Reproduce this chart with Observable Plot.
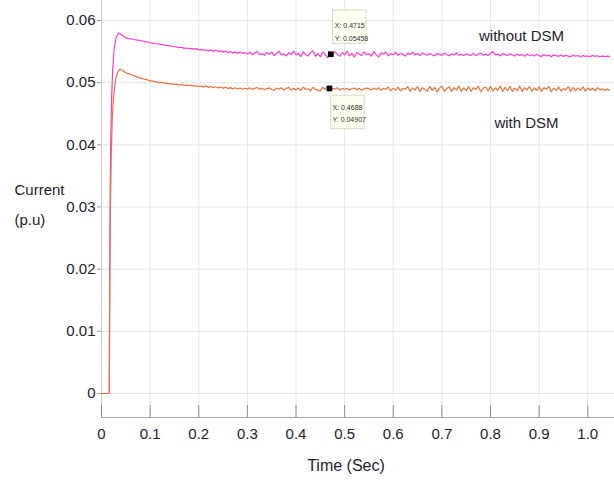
<!DOCTYPE html>
<html>
<head>
<meta charset="utf-8">
<script src="https://cdn.jsdelivr.net/npm/d3@7"></script>
<script src="https://cdn.jsdelivr.net/npm/@observablehq/plot@0.6"></script>
<style>
  html, body { margin: 0; padding: 0; background: #fff; }
</style>
</head>
<body>
<div id="chart"></div>
<script>
// ---- data ----
const xTicks = [0, 0.1, 0.2, 0.3, 0.4, 0.5, 0.6, 0.7, 0.8, 0.9, 1.0];
const yTicks = [0, 0.01, 0.02, 0.03, 0.04, 0.05, 0.06];

// start-up transient
const transientTimeWithout = [0, 0.016, 0.017, 0.018, 0.019, 0.021, 0.023, 0.026, 0.03, 0.035, 0.04, 0.045];
const transientWithout     = [0, 0, 0.02, 0.033, 0.041, 0.048, 0.052, 0.0555, 0.0573, 0.0580, 0.0578, 0.0575];
const transientTimeWith    = [0, 0.016, 0.0168, 0.018, 0.02, 0.022, 0.025, 0.029, 0.033, 0.038, 0.043];
const transientWith        = [0, 0, 0.015, 0.028, 0.038, 0.044, 0.0480, 0.0505, 0.0516, 0.0522, 0.0520];

// settling / steady part
const steadyTime = [
  0.05,0.055,0.06,0.065,0.07,0.075,0.08,0.085,0.09,0.095,
  0.10,0.105,0.11,0.115,0.12,0.125,0.13,0.135,0.14,0.145,
  0.15,0.155,0.16,0.165,0.17,0.175,0.18,0.185,0.19,0.195,
  0.20,0.205,0.21,0.215,0.22,0.225,0.23,0.235,0.24,0.245,
  0.25,0.255,0.26,0.265,0.27,0.275,0.28,0.285,0.29,0.295,
  0.30,0.305,0.31,0.315,0.32,0.325,0.33,0.335,0.34,0.345,
  0.35,0.355,0.36,0.365,0.37,0.375,0.38,0.385,0.39,0.395,
  0.40,0.405,0.41,0.415,0.42,0.425,0.43,0.435,0.44,0.445,
  0.45,0.455,0.46,0.465,0.47,0.475,0.48,0.485,0.49,0.495,
  0.50,0.505,0.51,0.515,0.52,0.525,0.53,0.535,0.54,0.545,
  0.55,0.555,0.56,0.565,0.57,0.575,0.58,0.585,0.59,0.595,
  0.60,0.605,0.61,0.615,0.62,0.625,0.63,0.635,0.64,0.645,
  0.65,0.655,0.66,0.665,0.67,0.675,0.68,0.685,0.69,0.695,
  0.70,0.705,0.71,0.715,0.72,0.725,0.73,0.735,0.74,0.745,
  0.75,0.755,0.76,0.765,0.77,0.775,0.78,0.785,0.79,0.795,
  0.80,0.805,0.81,0.815,0.82,0.825,0.83,0.835,0.84,0.845,
  0.85,0.855,0.86,0.865,0.87,0.875,0.88,0.885,0.89,0.895,
  0.90,0.905,0.91,0.915,0.92,0.925,0.93,0.935,0.94,0.945,
  0.95,0.955,0.96,0.965,0.97,0.975,0.98,0.985,0.99,0.995,
  1.00,1.005,1.01,1.015,1.02,1.025,1.03,1.035,1.04,1.045
];

const steadyWithout = [
  0.05720,0.05712,0.05705,0.05699,0.05690,0.05684,0.05676,0.05670,0.05660,0.05652,
  0.05642,0.05636,0.05630,0.05626,0.05616,0.05618,0.05604,0.05600,0.05594,0.05582,
  0.05578,0.05572,0.05566,0.05570,0.05552,0.05558,0.05546,0.05552,0.05536,0.05548,
  0.05526,0.05538,0.05520,0.05530,0.05512,0.05528,0.05504,0.05522,0.05500,0.05512,
  0.05492,0.05508,0.05482,0.05500,0.05476,0.05496,0.05468,0.05494,0.05472,0.05486,
  0.05462,0.05490,0.05448,0.05478,0.05500,0.05452,0.05470,0.05440,0.05486,0.05458,
  0.05492,0.05436,0.05470,0.05505,0.05446,0.05462,0.05430,0.05480,0.05452,0.05510,
  0.05445,0.05475,0.05420,0.05498,0.05452,0.05430,0.05488,0.05512,0.05425,0.05470,
  0.05418,0.05495,0.05450,0.05405,0.05478,0.05440,0.05500,0.05455,0.05425,0.05485,
  0.05448,0.05505,0.05430,0.05472,0.05412,0.05488,0.05456,0.05436,0.05494,0.05450,
  0.05470,0.05428,0.05500,0.05446,0.05415,0.05480,0.05458,0.05490,0.05432,0.05468,
  0.05450,0.05486,0.05440,0.05470,0.05455,0.05428,0.05476,0.05452,0.05490,0.05444,
  0.05468,0.05436,0.05480,0.05458,0.05442,0.05472,0.05450,0.05430,0.05470,0.05455,
  0.05440,0.05476,0.05452,0.05432,0.05466,0.05446,0.05478,0.05440,0.05458,0.05436,
  0.05465,0.05448,0.05440,0.05472,0.05434,0.05458,0.05476,0.05442,0.05460,0.05438,
  0.05470,0.05500,0.05446,0.05460,0.05430,0.05468,0.05452,0.05438,0.05465,0.05444,
  0.05430,0.05462,0.05440,0.05455,0.05426,0.05460,0.05438,0.05450,0.05428,0.05456,
  0.05436,0.05420,0.05452,0.05430,0.05444,0.05418,0.05448,0.05434,0.05424,0.05446,
  0.05420,0.05440,0.05428,0.05415,0.05446,0.05426,0.05438,0.05418,0.05436,0.05424,
  0.05430,0.05416,0.05440,0.05422,0.05434,0.05418,0.05432,0.05420,0.05428,0.05424
];

const steadyWith = [
  0.05160,0.05146,0.05132,0.05118,0.05102,0.05090,0.05074,0.05066,0.05052,0.05044,
  0.05030,0.05028,0.05014,0.05012,0.05000,0.05004,0.04990,0.04992,0.04978,0.04984,
  0.04970,0.04976,0.04962,0.04972,0.04955,0.04964,0.04950,0.04960,0.04944,0.04955,
  0.04935,0.04948,0.04928,0.04944,0.04925,0.04940,0.04918,0.04935,0.04915,0.04932,
  0.04910,0.04928,0.04905,0.04920,0.04900,0.04918,0.04898,0.04915,0.04895,0.04910,
  0.04900,0.04918,0.04890,0.04908,0.04922,0.04894,0.04912,0.04886,0.04904,0.04916,
  0.04890,0.04878,0.04912,0.04894,0.04920,0.04882,0.04906,0.04926,0.04880,0.04910,
  0.04884,0.04915,0.04872,0.04930,0.04890,0.04902,0.04868,0.04926,0.04892,0.04880,
  0.04868,0.04928,0.04890,0.04935,0.04875,0.04910,0.04896,0.04920,0.04882,0.04904,
  0.04894,0.04910,0.04884,0.04902,0.04915,0.04888,0.04906,0.04880,0.04900,0.04912,
  0.04904,0.04882,0.04914,0.04890,0.04920,0.04876,0.04908,0.04894,0.04930,0.04872,
  0.04912,0.04880,0.04928,0.04868,0.04910,0.04896,0.04935,0.04862,0.04918,0.04882,
  0.04936,0.04858,0.04920,0.04890,0.04862,0.04940,0.04876,0.04926,0.04850,0.04912,
  0.04945,0.04860,0.04905,0.04934,0.04856,0.04922,0.04880,0.04948,0.04862,0.04915,
  0.04872,0.04936,0.04858,0.04920,0.04890,0.04944,0.04852,0.04910,0.04930,0.04866,
  0.04940,0.04862,0.04918,0.04880,0.04945,0.04858,0.04926,0.04870,0.04938,0.04860,
  0.04912,0.04872,0.04948,0.04856,0.04920,0.04886,0.04935,0.04862,0.04915,0.04878,
  0.04932,0.04860,0.04920,0.04894,0.04940,0.04858,0.04912,0.04876,0.04930,0.04866,
  0.04905,0.04884,0.04938,0.04860,0.04926,0.04872,0.04916,0.04880,0.04934,0.04864,
  0.04918,0.04878,0.04910,0.04868,0.04922,0.04884,0.04900,0.04874,0.04896,0.04880
];

// data-cursor readouts shown on the chart
const cursors = [
  {t: 0.4715, v: 0.05458, label: "X: 0.4715\nY: 0.05458", series: "without"},
  {t: 0.4688, v: 0.04907, label: "X: 0.4688\nY: 0.04907", series: "with"}
];

const seriesLabels = ["without DSM", "with DSM"];

// ---- build tables ----
const withoutData = [
  ...transientTimeWithout.map((t, i) => ({t, v: transientWithout[i]})),
  ...steadyTime.map((t, i) => ({t, v: steadyWithout[i]}))
];
const withData = [
  ...transientTimeWith.map((t, i) => ({t, v: transientWith[i]})),
  ...steadyTime.map((t, i) => ({t, v: steadyWith[i]}))
];

const PINK = "#ff3dcb";
const ORANGE = "#e8733c";
const FONT = "'Liberation Sans', Arial, sans-serif";
const TXT = "#1f2230";

const cTop = cursors.filter(d => d.series === "without");
const cBot = cursors.filter(d => d.series === "with");

const chart = Plot.plot({
  width: 614,
  height: 486,
  marginLeft: 101,
  marginRight: 0,
  marginTop: 0,
  marginBottom: 69,
  style: {fontFamily: FONT, fontSize: "15px", color: TXT, background: "#fff"},
  x: {domain: [0, 1.055]},
  y: {domain: [-0.00386, 0.06322]},
  marks: [
    Plot.gridX(xTicks, {stroke: "#e6e6e6", strokeOpacity: 1}),
    Plot.gridY(yTicks, {stroke: "#e6e6e6", strokeOpacity: 1}),
    Plot.frame({anchor: "left", stroke: "#cfcfcf"}),
    Plot.frame({anchor: "bottom", stroke: "#a8a8a8"}),
    Plot.ruleX(xTicks, {stroke: "#8c8c8c", insetTop: 405}),
    Plot.axisX({ticks: xTicks, tickSize: 0, tickPadding: 11,
      tickFormat: d => d === 0 ? "0" : d.toFixed(1), label: null, fontSize: 15}),
    Plot.axisY({ticks: yTicks, tickSize: 4, tickPadding: 2, stroke: "#9a9a9a",
      tickFormat: d => d === 0 ? "0" : d.toFixed(2), label: null, fontSize: 15}),
    Plot.line(withoutData, {x: "t", y: "v", stroke: PINK, strokeWidth: 1.2}),
    Plot.line(withData, {x: "t", y: "v", stroke: ORANGE, strokeWidth: 1.2}),
    // cursor readout boxes
    Plot.dot(cTop, {x: "t", y: "v", symbol: "square", r: 18.9, dx: 18.5, dy: -27.5,
      fill: "#fdfdf0", stroke: "#d9d9c4", strokeWidth: 1}),
    Plot.dot(cBot, {x: "t", y: "v", symbol: "square", r: 18.9, dx: 18, dy: 23.5,
      fill: "#fdfdf0", stroke: "#d9d9c4", strokeWidth: 1}),
    Plot.text(cTop, {x: "t", y: "v", text: "label", dx: 4, dy: -24, textAnchor: "start",
      fontSize: 7, lineHeight: 1.85, fill: "#333"}),
    Plot.text(cBot, {x: "t", y: "v", text: "label", dx: 3, dy: 23.5, textAnchor: "start",
      fontSize: 7, lineHeight: 1.75, fill: "#333"}),
    Plot.dot(cursors, {x: "t", y: "v", symbol: "square", r: 3.2, fill: "#000", stroke: "none"}),
    // series annotations
    Plot.text([seriesLabels[0]], {frameAnchor: "top-right", dx: -93, dy: 30, textAnchor: "middle", fontSize: 15, fill: TXT}),
    Plot.text([seriesLabels[1]], {frameAnchor: "top-right", dx: -88, dy: 117, textAnchor: "middle", fontSize: 15, fill: TXT}),
    // axis titles
    Plot.text(["Current\n(p.u)"], {frameAnchor: "top-left", dx: -87, dy: 200, textAnchor: "start",
      lineAnchor: "middle", lineHeight: 2.0, fontSize: 15, fill: TXT}),
    Plot.text(["Time (Sec)"], {frameAnchor: "bottom", dx: -12, dy: 53, fontSize: 16, fill: TXT})
  ]
});

document.getElementById("chart").appendChild(chart);
</script>
</body>
</html>
